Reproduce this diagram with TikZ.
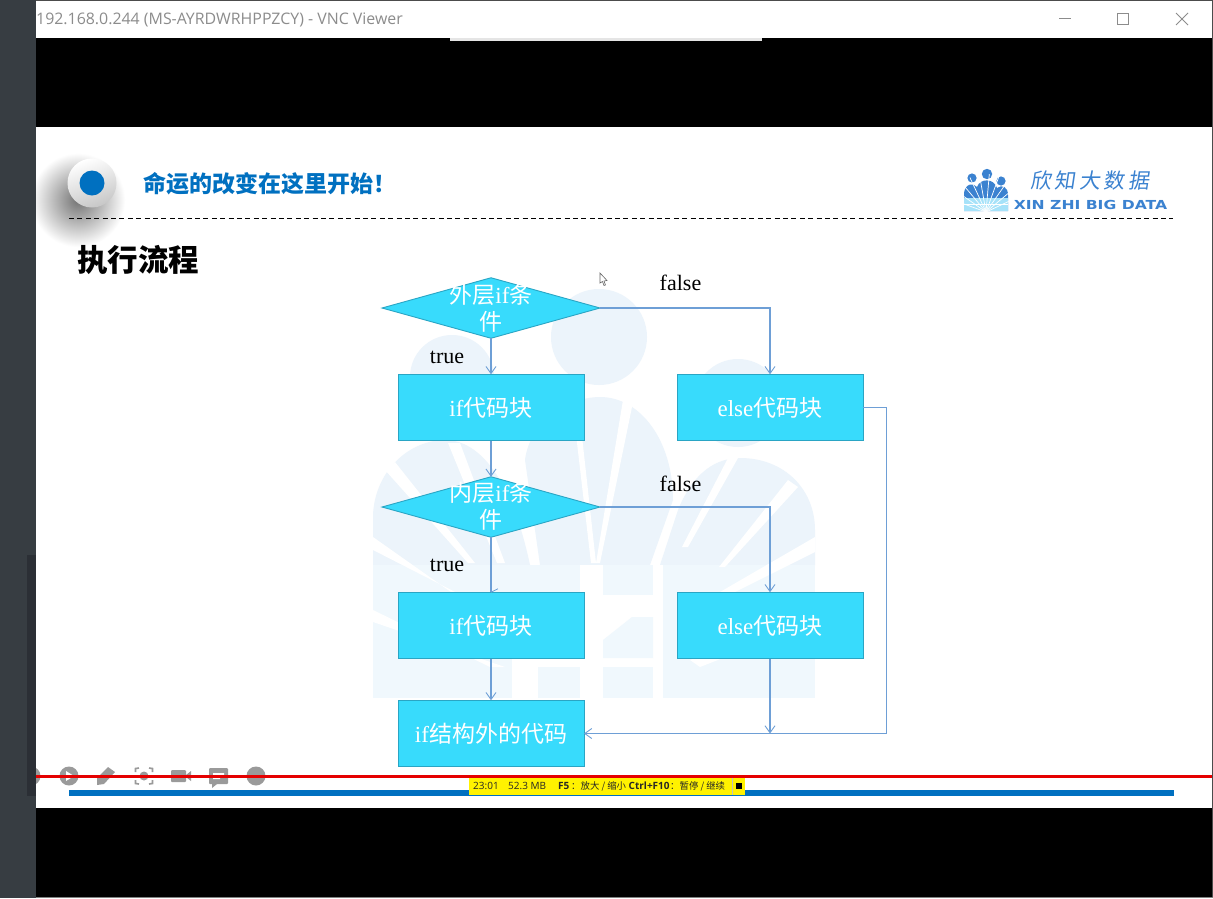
\documentclass[tikz,border=0pt]{standalone}
\usepackage{fontspec}
\setmainfont{Liberation Serif}
\newfontfamily\cj{Noto Sans CJK SC}
\newfontfamily\uif{Open Sans}
\newfontfamily\logof{DejaVu Sans}
\usetikzlibrary{shapes.geometric,arrows.meta}
\definecolor{cy}{HTML}{38DBFC}
\definecolor{cyb}{HTML}{2AA5C4}
\definecolor{conn}{HTML}{6E9FD6}
\definecolor{bl}{HTML}{0070C0}
\definecolor{wm}{HTML}{ECF4FB}
\definecolor{wml}{HTML}{F0F8FD}
\definecolor{strip}{HTML}{373D42}
\definecolor{stripd}{HTML}{2B2F35}
\definecolor{ico}{HTML}{9A9A9A}
\definecolor{lg}{HTML}{3B82D0}
\tikzset{
 box/.style={draw=cyb,fill=cy,line width=1pt,minimum width=186pt,minimum height=66.5pt,inner sep=0pt,outer sep=0pt,text=white,font=\fontsize{23}{27}\selectfont},
 dia/.style={diamond,aspect=3.59,draw=cyb,fill=cy,line width=.9pt,minimum width=218pt,minimum height=60.5pt,inner sep=0pt,outer sep=0pt},
 diat/.style={text=white,align=center,inner sep=0pt,font=\fontsize{23}{27}\selectfont},
 lab/.style={inner sep=0pt,font=\fontsize{22}{26}\selectfont},
 link/.style={draw=conn,line width=1.1pt,-{Straight Barb[length=7pt,width=10pt,line width=.9pt]}},
 plainlink/.style={draw=conn,line width=1.1pt},
 stat/.style={anchor=west,inner sep=0pt,font=\fontsize{10}{12}\selectfont,text=black!85},
 statc/.style={stat,font=\fontsize{9.4}{12}\selectfont},
 wmray/.style={fill=white,draw=none},
}
\begin{document}
\begin{tikzpicture}[x=1pt,y=-1pt]
\useasboundingbox (0,0) rectangle (1213,898);
% frame
\fill[white] (0,0) rectangle (1213,898);
\fill[black] (36,38) rectangle (1213,127);
\fill[black] (36,808) rectangle (1213,898);
\fill[black!10] (450,38) rectangle (762,41);
% watermark
\fill[wm] (599,337) circle (48);
\fill[wm] (452,377) circle (42);
\fill[wm] (738,403) circle (44);
\fill[wm] (373,565) -- (373,515) .. controls (375,470) and (410,440) .. (445,440) .. controls (480,440) and (512,480) .. (530,565) -- cycle;
\fill[wm] (540,565) -- (525,460) .. controls (530,420) and (570,397) .. (600,397) .. controls (640,397) and (673,440) .. (673,500) -- (650,565) -- cycle;
\fill[wm] (660,565) -- (678,510) .. controls (690,480) and (710,458) .. (740,458) .. controls (785,458) and (815,490) .. (815,530) -- (815,565) -- cycle;
\fill[wml] (373,565) rectangle (815,698);
% white rays
\fill[wmray] (385,470) -- (395,462) -- (475,563) -- (468,563) -- cycle;
\fill[wmray] (448,443) -- (460,443) -- (505,563) -- (497,563) -- cycle;
\fill[wmray] (572,400) -- (578,400) -- (596,563) -- (591,563) -- cycle;
\fill[wmray] (623,400) -- (633,402) -- (600,563) -- (596,563) -- cycle;
\fill[wmray] (728,458) -- (738,458) -- (688,547) -- (682,547) -- cycle;
\fill[wmray] (788,480) -- (798,487) -- (725,567) -- (719,567) -- cycle;
\fill[wmray] (373,537) -- (373,550) -- (465,597) -- (458,597) -- cycle;
\fill[wmray] (815,537) -- (815,552) -- (725,597) -- (720,592) -- cycle;
\fill[wmray] (373,610) -- (373,622) -- (505,667) -- (490,667) -- cycle;
\fill[wmray] (815,610) -- (815,622) -- (700,667) -- (690,660) -- cycle;
\fill[wmray] (512,595) rectangle (663,667);
\fill[wmray] (580,565) rectangle (603,698);
\fill[wmray] (653,565) rectangle (663,698);
\fill[wmray] (512,667) rectangle (538,698);
\fill[wml] (603,658) -- (603,640) -- (632,617) -- (653,617) -- (653,658) -- cycle;
\fill[wml] (603,667) rectangle (653,698);
% header
\begin{scope}
\clip (36,127) rectangle (400,300);
\shade[inner color=black!55,outer color=white] (78,200) circle (47);
\end{scope}
\shade[left color=white,right color=black!22,shading angle=20] (92,183) circle (24.5);
\fill[bl] (92,183) circle (12.5);
\node[anchor=west,inner sep=0pt,text=bl,font=\cj\bfseries\fontsize{23}{28}\selectfont] (slogan) at (143,184) {命运的改变在这里开始！};
\node[anchor=west,inner sep=0pt,font=\cj\bfseries\fontsize{30.5}{34}\selectfont] (heading) at (77,260) {执行流程};
\draw[black,line width=1pt,dash pattern=on 5pt off 3.4pt] (69,218) -- (1173,218);
% logo
\fill[lg] (972,178) circle (4.6) (987,174) circle (5.2) (1001,181) circle (4.6);
\fill[lg] (964,211) -- (964,193) .. controls (965,184) and (973,182) .. (977,187) .. controls (980,178) and (994,178) .. (997,188) .. controls (1002,184) and (1008,187) .. (1008,195) -- (1008,211) -- cycle;
\fill[cyan!35!white] (964,198) rectangle (1008,211);
\foreach \a in {200,215,...,340} {\draw[white,line width=.7pt] (986,212) -- ++(\a:38);}
\draw[white,line width=.7pt] (964,204) -- (1008,204);
\node[inner sep=0pt,text=lg,font=\cj\fontsize{21}{24}\selectfont,xslant=.15] (logocn) at (1091,181) {欣\,知\,大\,数\,据};
\node[inner sep=0pt,text=lg,font=\logof\bfseries\fontsize{12.4}{14}\selectfont,xscale=1.26] (logoen) at (1090.5,205) {XIN ZHI BIG DATA};
% flow
\node[dia] (d1) at (491,308) {};
\node[diat] (d1t) at (491,308.5) {\cj 外层\rmfamily if\cj 条\\\cj 件};
\node[box] (r1) at (491,407.5) {if\cj 代码块};
\node[box] (e1) at (770,407.5) {else\cj 代码块};
\node[dia] (d2) at (491,507) {};
\node[diat] (d2t) at (491,506.5) {\cj 内层\rmfamily if\cj 条\\\cj 件};
\node[box] (r2) at (491,625.5) {if\cj 代码块};
\node[box] (e2) at (770,625.5) {else\cj 代码块};
\node[box] (end) at (491,733.5) {if\cj 结构外的代码};
\coordinate (join) at (e2.south |- end.east);
\coordinate (far) at (886.5,407.5);
\coordinate (far2) at (886.5,733.5);
\draw[link] (d1.south) -- (r1.north);
\draw[link] (d1.east) -| (e1.north);
\draw[link] (r1.south) -- (d2.north);
\draw[link] (d2.east) -| (e2.north);
\draw[plainlink] (d2.south) -- (r2.north);
\draw[plainlink,line width=.7pt] (r2.north) -- ++(7,-3.5);
\draw[link] (r2.south) -- (end.north);
\draw[link] (e2.south) -- (join);
\draw[link] (e1.east) -- (far) -- (far2) -- (end.east);
\node[lab] (f1) at (680.5,283) {false};
\node[lab] (f2) at (680.5,484) {false};
\node[lab] (t1) at (447,357.5) {true};
\node[lab] (t2) at (447,565.5) {true};
% pointer
\draw[black!60,fill=white,line width=.6pt] (600,273) -- (600,283) -- (602.5,281.5) -- (604,285.5) -- (605.5,285) -- (604,281) -- (607,280.5) -- cycle;
% bottom
\fill[bl] (69,790) rectangle (1174,795.5);
% recorder icons
\begin{scope}
\clip (36,750) rectangle (300,800);
\fill[ico] (31,776) circle (9.5);
\end{scope}
\fill[ico] (69,776) circle (9.5);
\fill[white] (66,771) -- (66,781) -- (74,776) -- cycle;
\fill[ico] (97,785) -- (97,778) -- (108,767) -- (115,772) -- (104,784) -- cycle;
\draw[ico,line width=1.6pt] (135.5,772) -- (135.5,768.5) -- (139,768) (149,768) -- (152.5,768.5) -- (152.5,772) (152.5,780) -- (152.5,783.5) -- (149,784) (139,784) -- (135.5,783.5) -- (135.5,780);
\fill[ico] (144,776) circle (4.5);
\fill[ico,rounded corners=1pt] (171,770) rectangle (186,782);
\fill[ico] (186,775) -- (191,771) -- (191,781) -- (186,777) -- cycle;
\fill[ico,rounded corners=1pt] (209,768) rectangle (228,784);
\fill[ico] (212,784) -- (212,788) -- (217,784) -- cycle;
\fill[white] (213,773) rectangle (224,775) (213,777) rectangle (220,779);
\fill[ico] (256,776) circle (9.5);
\fill[red!90!black] (36,774.5) rectangle (1213,777.5);
% status bar
\fill[yellow] (469,777.5) rectangle (745,795);
\draw[black!25,line width=.7pt] (732,777.5) -- (732,795);
\node[stat] (s1) at (473,786) {\uif 23:01};
\node[stat] (s2) at (508,786) {\uif 52.3 MB};
\node[stat] (s3) at (558,786) {\uif\bfseries F5};
\node[statc] (s4) at (571,786) {\cj ：放大 / 缩小};
\node[stat] (s5) at (628.5,786) {\uif\bfseries Ctrl+F10};
\node[statc] (s6) at (670,786) {\cj ：暂停 / 继续};
\fill[black] (735.5,782.5) rectangle (741.5,788.5);
% window chrome
\fill[strip] (0,0) rectangle (36,898);
\fill[stripd] (27,555) rectangle (36,796);
\fill[black!70] (36,0) rectangle (1213,.8);
\fill[black!70] (1212,0) rectangle (1213,898);
\fill[black!50] (36,897) rectangle (1213,898);
\node[anchor=west,inner sep=0pt,text=black!45,font=\uif\fontsize{15.9}{18}\selectfont] (wtitle) at (36,19.5) {192.168.0.244 (MS-AYRDWRHPPZCY) - VNC Viewer};
\draw[black!45,line width=1pt] (1059,18.5) -- (1071,18.5);
\draw[black!45,line width=1pt] (1117.5,13.5) rectangle (1128.5,24.5);
\draw[black!45,line width=1pt] (1176,13) -- (1188,25) (1188,13) -- (1176,25);
\end{tikzpicture}
\end{document}
